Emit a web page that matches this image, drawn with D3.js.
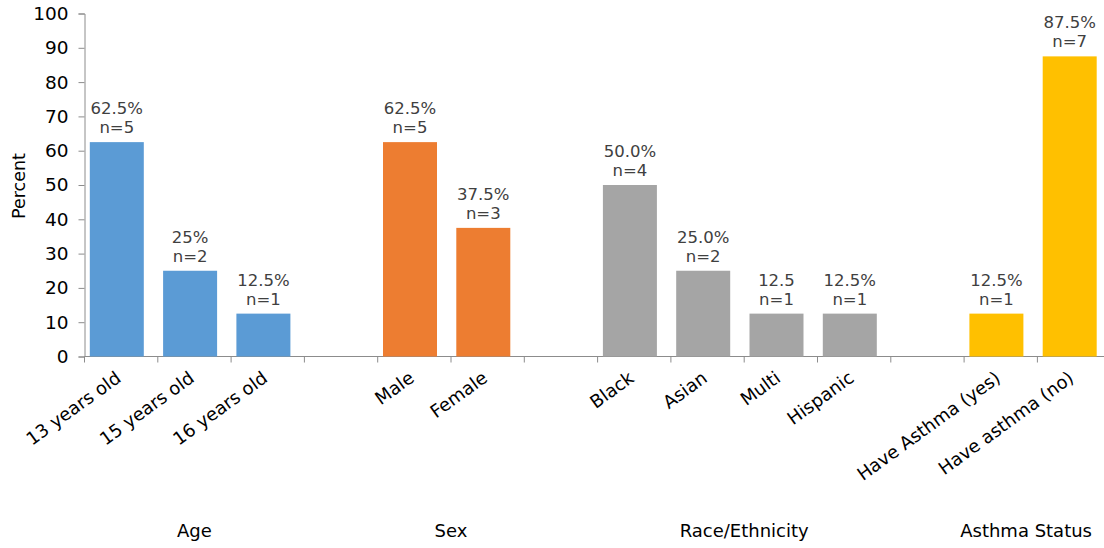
<!DOCTYPE html>
<html>
<head>
<meta charset="utf-8">
<script src="https://cdn.jsdelivr.net/npm/d3@7"></script>
<style>
  html, body { margin: 0; padding: 0; background: #fff; }
  svg { display: block; font-family: "DejaVu Sans", Verdana, sans-serif; }
</style>
</head>
<body>
<svg id="chart" width="1104" height="548"></svg>
<script>
// Survey breakdown: percent of respondents (n shown above each bar)
const groups      = ["Age", "Sex", "Race/Ethnicity", "Asthma Status"];
const categories  = ["13 years old", "15 years old", "16 years old",
                     "Male", "Female",
                     "Black", "Asian", "Multi", "Hispanic",
                     "Have Asthma (yes)", "Have asthma (no)"];
const categoryGroup = [0, 0, 0, 1, 1, 2, 2, 2, 2, 3, 3];
const percents    = [62.5, 25, 12.5, 62.5, 37.5, 50, 25, 12.5, 12.5, 12.5, 87.5];
const percentText = ["62.5%", "25%", "12.5%", "62.5%", "37.5%", "50.0%", "25.0%", "12.5", "12.5%", "12.5%", "87.5%"];
const counts      = [5, 2, 1, 5, 3, 4, 2, 1, 1, 1, 7];
const groupColors = ["#5B9BD5", "#ED7D31", "#A5A5A5", "#FFC000"];
const yTicks      = [0, 10, 20, 30, 40, 50, 60, 70, 80, 90, 100];

// Slots along the x axis: categories with an empty slot between groups
const slots = [];
categories.forEach((c, i) => {
  if (i > 0 && categoryGroup[i] !== categoryGroup[i - 1]) slots.push("gap" + i);
  slots.push(c);
});

const svg = d3.select("#chart");
const left = 84.5, baseY = 356.5, topY = 13.5;
const slotW = 73.3;

const x = d3.scaleBand().domain(slots).range([left, left + slots.length * slotW]).padding(0);
const y = d3.scaleLinear().domain([0, 100]).range([baseY, topY]);

const axisColor = "#8c8c8c";
const barW = 54, barOffset = 5.3;

// Y axis
const yAxis = svg.append("g")
  .attr("transform", `translate(${left},0)`)
  .call(d3.axisLeft(y).tickValues(yTicks).tickSize(6).tickPadding(10));
yAxis.select(".domain").attr("stroke", axisColor);
yAxis.selectAll(".tick line").attr("stroke", axisColor);
yAxis.selectAll(".tick text")
  .attr("font-size", 18.5).attr("fill", "#000")
  .attr("font-family", '"DejaVu Sans", Verdana, sans-serif');

// Y title
svg.append("text")
  .attr("transform", `translate(25,${(baseY + topY) / 2 + 1}) rotate(-90)`)
  .attr("text-anchor", "middle")
  .attr("font-size", 17.5)
  .text("Percent");

// X axis line and ticks at slot boundaries
const xAxisG = svg.append("g");
xAxisG.append("line")
  .attr("x1", left).attr("x2", 1104)
  .attr("y1", baseY).attr("y2", baseY)
  .attr("stroke", axisColor);
xAxisG.selectAll("line.tick")
  .data(slots)
  .join("line")
  .attr("class", "tick")
  .attr("x1", d => x(d)).attr("x2", d => x(d))
  .attr("y1", baseY).attr("y2", baseY + 6)
  .attr("stroke", axisColor);

// Bars
const data = categories.map((c, i) => ({
  name: c, group: categoryGroup[i], value: percents[i], label: percentText[i], n: counts[i]
}));

svg.append("g").selectAll("rect")
  .data(data)
  .join("rect")
  .attr("x", d => x(d.name) + barOffset)
  .attr("width", barW)
  .attr("y", d => y(d.value))
  .attr("height", d => y(0) - y(d.value))
  .attr("fill", d => groupColors[d.group]);

// Value labels
const lbl = svg.append("g").selectAll("text")
  .data(data)
  .join("text")
  .attr("text-anchor", "middle")
  .attr("font-size", 16.5)
  .attr("fill", "#404040")
  .attr("x", d => x(d.name) + barOffset + barW / 2)
  .attr("y", d => y(d.value) - 28);
lbl.append("tspan").text(d => d.label);
lbl.append("tspan")
  .attr("x", d => x(d.name) + barOffset + barW / 2)
  .attr("dy", 19)
  .text(d => "n=" + d.n);

// Category labels, rotated
svg.append("g").selectAll("text")
  .data(data)
  .join("text")
  .attr("text-anchor", "end")
  .attr("font-size", 18)
  .attr("fill", "#000")
  .attr("transform", d => `translate(${x(d.name) + x.bandwidth() / 2 + 1},${baseY + 24}) rotate(-36)`)
  .text(d => d.name);

// Group labels
svg.append("g").selectAll("text")
  .data(groups)
  .join("text")
  .attr("font-size", 18)
  .attr("fill", "#000")
  .attr("y", 537)
  .attr("text-anchor", "middle")
  .text(d => d)
  .each(function (g, gi) {
    const members = data.filter(d => d.group === gi);
    const x0 = x(members[0].name);
    const x1 = x(members[members.length - 1].name) + x.bandwidth();
    let cx = (x0 + x1) / 2;
    const w = this.getComputedTextLength();
    if (cx + w / 2 > 1092) cx = 1092 - w / 2;
    d3.select(this).attr("x", cx);
  });
</script>
</body>
</html>
